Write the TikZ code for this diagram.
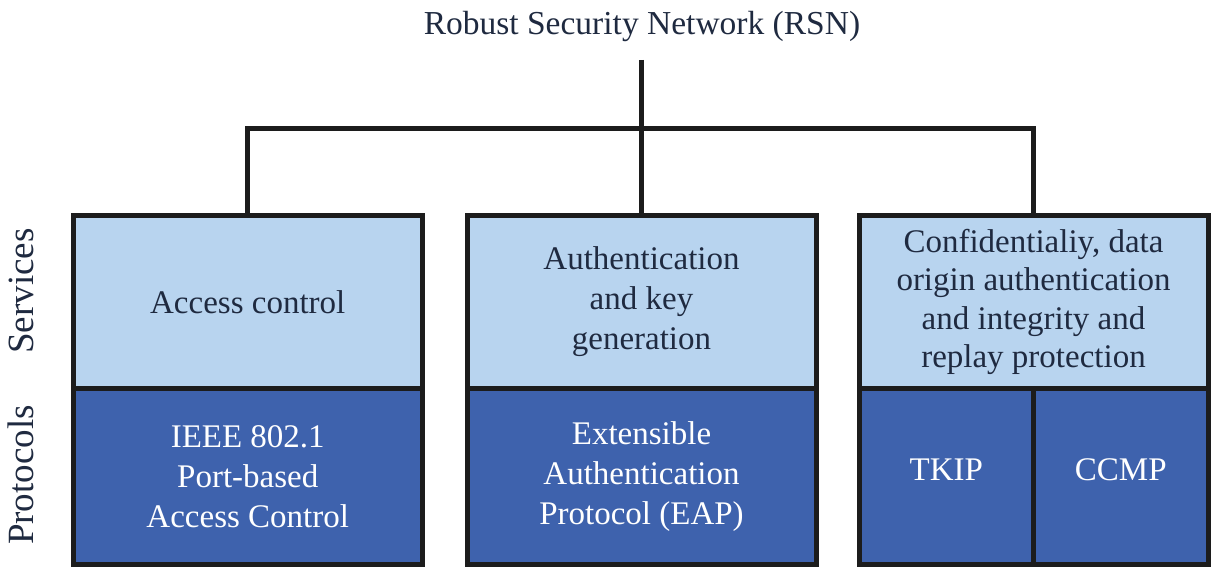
\documentclass[tikz,border=0pt]{standalone}
\usepackage{fontspec}
\setmainfont{Liberation Serif}
\definecolor{svcfill}{HTML}{B8D4EF}
\definecolor{profill}{HTML}{3E62AD}
\definecolor{ink}{HTML}{1C1C1C}
\definecolor{navy}{HTML}{1F2A40}
\begin{document}
\begin{tikzpicture}[x=1pt,y=-1pt,
  every node/.style={inner sep=0pt,outer sep=0pt},
  txt/.style={font=\fontsize{33}{40}\selectfont,align=center},
  svcbox/.style={txt,draw=ink,line width=5pt,fill=svcfill,text=navy,minimum height=173pt,line join=miter},
  probox/.style={txt,draw=ink,line width=5pt,fill=profill,text=white,minimum height=176pt,line join=miter},
  side/.style={font=\fontsize{37}{40}\selectfont,text=navy,rotate=90,anchor=base},
  conn/.style={draw=ink,line width=5pt,line join=miter}]
\useasboundingbox (0,0) rectangle (1220,577);

\node[font=\fontsize{33.5}{40}\selectfont,text=navy,anchor=base] (title) at (642,35) {Robust Security Network (RSN)};
\coordinate (stem) at (641.5,60);
\coordinate (hub) at (641.5,129);

\node[svcbox,minimum width=349.5pt] (svcA) at (247.75,302) {Access control};
\node[probox,minimum width=349.5pt] (proA) at (247.75,476.5) {IEEE 802.1\\Port-based\\Access Control};

\node[svcbox,minimum width=349pt] (svcB) at (641.5,302) {Authentication\\and key\\generation};
\node[probox,minimum width=349pt] (proB) at (641.5,476.5) {Extensible\\Authentication\\Protocol (EAP)};

\node[svcbox,minimum width=349pt,font=\fontsize{33}{38.5}\selectfont] (svcC) at (1033.5,302) {Confidentialiy, data\\origin authentication\\and integrity and\\replay protection};
\node[probox,minimum width=174.5pt,text depth=14pt] (tkip) at (946.25,476.5) {TKIP};
\node[probox,minimum width=174.5pt,text depth=14pt] (ccmp) at (1120.75,476.5) {CCMP};

\draw[conn] (stem) -- (hub) -- (svcB.north);
\draw[conn] (svcA.north) |- (hub) -| (svcC.north);

\node[side] (services) at (33,291) {Services};
\node[side] (protocols) at (33,475) {Protocols};
\end{tikzpicture}
\end{document}
